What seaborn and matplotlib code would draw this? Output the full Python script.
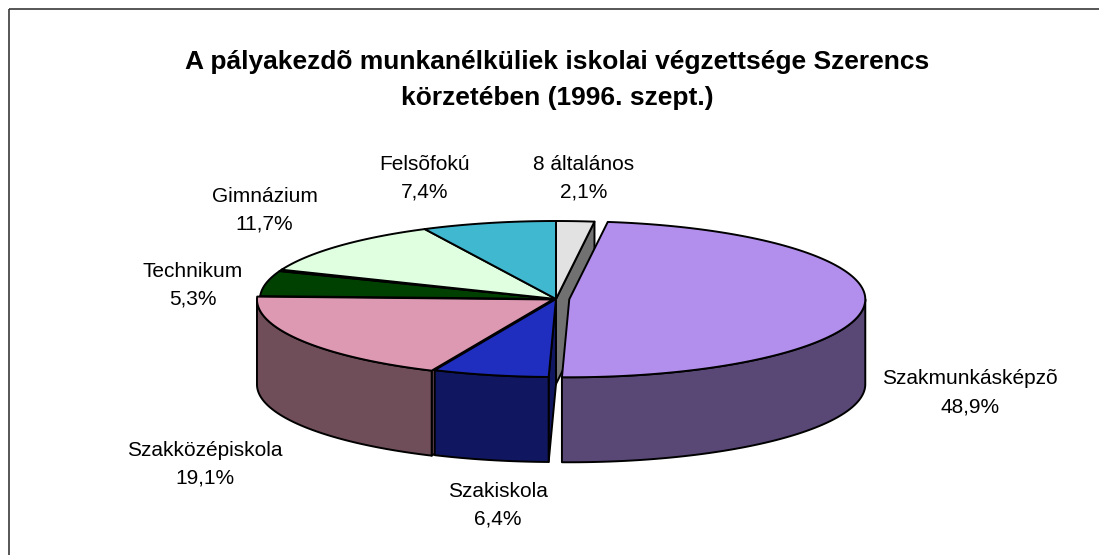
import numpy as np
import matplotlib
matplotlib.use("Agg")
import matplotlib.pyplot as plt
import seaborn as sns
from matplotlib.patches import Polygon, Rectangle
from matplotlib.colors import to_rgb

# ---------------- data ----------------
categories = ["8 általános", "Szakmunkásképzõ", "Szakiskola", "Szakközépiskola",
              "Technikum", "", "Gimnázium", "Felsõfokú"]
values = [2.1, 48.9, 6.4, 19.1, 5.3, 0.3, 11.7, 7.4]
top_colors = ["#E2E2E2", "#B28FEC", "#1F2EBF", "#DE99B2",
              "#004000", "#D8D8D8", "#E0FFE0", "#40B8D0"]
explode = [0, 0.045, 0, 0.012, 0, 0, 0, 0]
title = "A pályakezdõ munkanélküliek iskolai végzettsége Szerencs\nkörzetében (1996. szept.)"

# ---------------- layout ----------------
W, H = 1099, 555
CX, CY, A, B, DEPTH = 556, 299, 296, 78, 85
GAP = 18
label_nudge = [(4, -2), (0, 2), (19, 8), (-1, 12), (-5, 3), (0, 0), (-4, -8), (-52, -8)]

sns.set_style("white")
plt.rcParams['font.family'] = ['Liberation Sans', 'DejaVu Sans']

fig = plt.figure(figsize=(W / 100, H / 100), dpi=100)
ax = fig.add_axes([0, 0, 1, 1])
ax.set_xlim(0, W)
ax.set_ylim(H, 0)
ax.axis('off')

vals = np.array(values, dtype=float)
edges = np.concatenate([[0], np.cumsum(vals / vals.sum())]) * 360.0


def rim(t_deg, ox, oy, dz=0.0):
    t = np.radians(t_deg)
    return np.column_stack([CX + ox + A * np.sin(t), CY + oy - B * np.cos(t) + dz])


def side_color(c):
    return tuple(np.array(to_rgb(c)) * 0.5)


slices = []
for i, v in enumerate(vals):
    t1, t2 = edges[i], edges[i + 1]
    m = np.radians((t1 + t2) / 2)
    d = explode[i]
    ox, oy = A * d * np.sin(m), -B * d * np.cos(m)
    slices.append((t1, t2, ox, oy))

lw = 1.4
radial, outer, tops = [], [], []
for i, (t1, t2, ox, oy) in enumerate(slices):
    apex = np.array([[CX + ox, CY + oy]])
    sc = side_color(top_colors[i])
    for t, vis in ((t1, np.sin(np.radians(t1)) < -1e-6), (t2, np.sin(np.radians(t2)) > 1e-6)):
        if vis:
            r = rim([t], ox, oy)
            pts = np.vstack([apex, r, r + [0, DEPTH], apex + [0, DEPTH]])
            radial.append((r[0, 1], pts, sc))
    lo, hi = max(t1, 90.0), min(t2, 270.0)
    if hi > lo:
        ts = np.linspace(lo, hi, 80)
        topr = rim(ts, ox, oy)
        botr = rim(ts[::-1], ox, oy, DEPTH)
        outer.append((topr[:, 1].mean(), np.vstack([topr, botr]), sc))
    ts = np.linspace(t1, t2, max(4, int((t2 - t1) * 2)))
    tops.append(np.vstack([apex, rim(ts, ox, oy)]))

for _, pts, c in sorted(radial, key=lambda x: x[0]):
    ax.add_patch(Polygon(pts, closed=True, facecolor=c, edgecolor='black', lw=lw, joinstyle='round'))
for _, pts, c in sorted(outer, key=lambda x: x[0]):
    ax.add_patch(Polygon(pts, closed=True, facecolor=c, edgecolor='black', lw=lw, joinstyle='round'))
for i, pts in enumerate(tops):
    ax.add_patch(Polygon(pts, closed=True, facecolor=top_colors[i], edgecolor='black', lw=lw, joinstyle='round'))

# labels
for i, (t1, t2, ox, oy) in enumerate(slices):
    if not categories[i]:
        continue
    m = np.radians((t1 + t2) / 2)
    ux, uy = np.sin(m), -np.cos(m)
    rx = CX + ox + A * ux
    ry = CY + oy + B * uy + (DEPTH if uy > 0 else 0)
    n = np.array([ux * A, uy * B])
    n = n / np.linalg.norm(n)
    px, py = rx + GAP * n[0] + label_nudge[i][0], ry + GAP * n[1] + label_nudge[i][1]
    ha = 'left' if ux > 0.35 else ('right' if ux < -0.35 else 'center')
    va = 'bottom' if uy < -0.35 else ('top' if uy > 0.35 else 'center')
    pct = f"{vals[i]:.1f}%".replace('.', ',')
    ax.text(px, py, f"{categories[i]}\n{pct}", ha=ha, va=va, multialignment='center',
            fontsize=15, color='black', linespacing=1.6)

ax.text(557, 80, title, ha='center', va='center', fontsize=19, fontweight='bold',
        color='black', linespacing=1.6)

ax.add_patch(Rectangle((8.5, 9), W + 50, H + 50, fill=False, edgecolor='#3a3a3a', lw=1.2))

fig.savefig("out.png", dpi=100)
